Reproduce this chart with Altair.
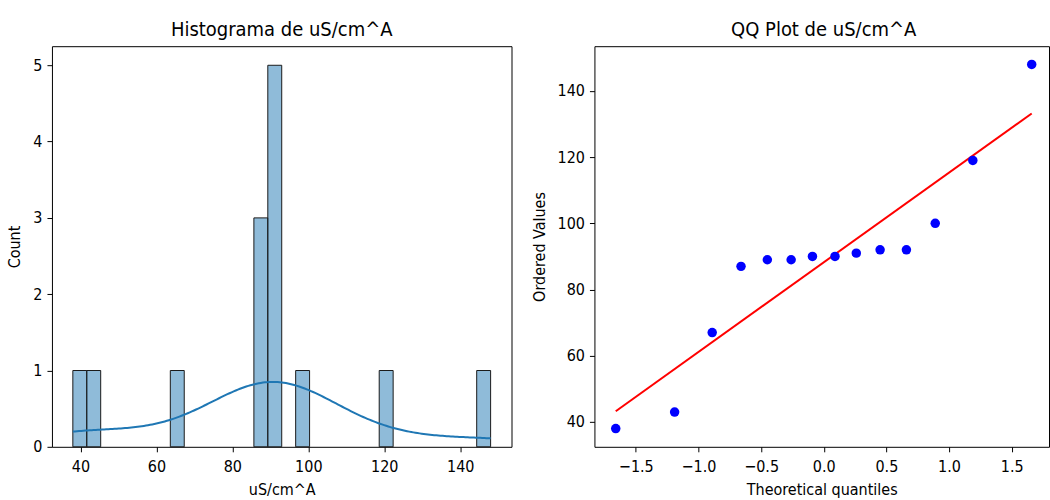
import altair as alt
import numpy as np
import pandas as pd

# ---- data ----
values = [38, 43, 67, 87, 89, 89, 90, 90, 91, 92, 92, 100, 119, 148]
theoretical_q = [-1.66, -1.19, -0.89, -0.66, -0.45, -0.26, -0.09,
                 0.09, 0.26, 0.45, 0.66, 0.89, 1.19, 1.66]
n_bins = 30
hist_x_ticks = [40, 60, 80, 100, 120, 140]
hist_y_ticks = [0, 1, 2, 3, 4, 5]
qq_x_ticks = [-1.5, -1.0, -0.5, 0.0, 0.5, 1.0, 1.5]
qq_y_ticks = [40, 60, 80, 100, 120, 140]

FONT = "DejaVu Sans Condensed, DejaVu Sans"

# ---- derived tables ----
vmin, vmax = min(values), max(values)
counts, edges = np.histogram(values, bins=n_bins, range=(vmin, vmax))
binwidth = edges[1] - edges[0]
hist_df = pd.DataFrame({"start": edges[:-1], "end": edges[1:], "count": counts})
hist_df = hist_df[hist_df["count"] > 0]
raw_df = pd.DataFrame({"v": values})
bw = float(np.std(values, ddof=1) * len(values) ** (-1 / 5))
scale_factor = len(values) * binwidth

qq_df = pd.DataFrame({"q": theoretical_q, "v": sorted(values)})
slope, intercept = np.polyfit(theoretical_q, sorted(values), 1)
line_df = pd.DataFrame({"q": [theoretical_q[0], theoretical_q[-1]]})
line_df["v"] = slope * line_df["q"] + intercept

H = 401
hx = alt.Scale(domain=[32.5, 153.5], nice=False, zero=False)
hy = alt.Scale(domain=[0, 5.25], nice=False)
qx = alt.Scale(domain=[-1.83, 1.798], nice=False, zero=False)
qy = alt.Scale(domain=[32.5, 153.5], nice=False, zero=False)

bars = alt.Chart(hist_df).mark_rect(
    fill="#1f77b4", fillOpacity=0.5, stroke="#1a1a1a", strokeWidth=1
).encode(
    x=alt.X("start:Q", scale=hx, axis=alt.Axis(values=hist_x_ticks, format="d", title="uS/cm^A")),
    x2="end:Q",
    y=alt.Y("count:Q", scale=hy, axis=alt.Axis(values=hist_y_ticks, format="d", title="Count")),
    y2=alt.datum(0),
)

kde = alt.Chart(raw_df).transform_density(
    "v", as_=["v", "density"], bandwidth=bw, extent=[vmin, vmax], steps=200
).transform_calculate(
    y=f"datum.density * {scale_factor}"
).mark_line(color="#1f77b4", strokeWidth=2).encode(
    x=alt.X("v:Q", scale=hx),
    y=alt.Y("y:Q", scale=hy),
)

left = alt.layer(bars, kde).properties(
    width=460, height=H, title="Histograma de uS/cm^A"
)

pts = alt.Chart(qq_df).mark_circle(size=90, color="#0000ff", opacity=1).encode(
    x=alt.X("q:Q", scale=qx, axis=alt.Axis(values=qq_x_ticks, format=".1f",
                                           title="Theoretical quantiles")),
    y=alt.Y("v:Q", scale=qy, axis=alt.Axis(values=qq_y_ticks, format="d",
                                           title="Ordered Values")),
)
fit = alt.Chart(line_df).mark_line(color="#ff0000", strokeWidth=2).encode(
    x=alt.X("q:Q", scale=qx),
    y=alt.Y("v:Q", scale=qy),
)
right = alt.layer(fit, pts).properties(
    width=455, height=H, title=alt.TitleParams("QQ Plot de uS/cm^A", dx=2)
)

chart = alt.hconcat(left, right, spacing=83, bounds="flush").properties(
    padding={"left": 6, "top": 19, "right": 0, "bottom": 0},
    background="white",
).configure_view(
    stroke="#000000", strokeWidth=1
).configure_axis(
    grid=False, domain=False, ticks=True, tickColor="#000", tickSize=5,
    labelFont=FONT, labelFontSize=16, labelColor="#000", labelPadding=5,
    titleFont=FONT, titleFontSize=16, titleColor="#000", titleFontWeight="normal",
    titlePadding=10,
).configure_axisX(
    labelPadding=7, titlePadding=7,
).configure_title(
    font=FONT, fontSize=20, fontWeight="normal", color="#000", offset=6, anchor="middle"
)

chart.save("out.html", embed_options={"renderer": "svg", "actions": False})
